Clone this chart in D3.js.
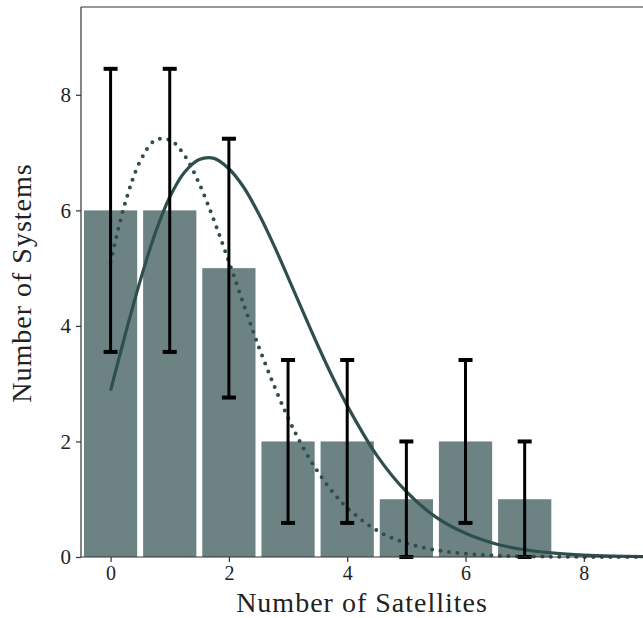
<!DOCTYPE html>
<html>
<head>
<meta charset="utf-8">
<script src="https://cdn.jsdelivr.net/npm/d3@7"></script>
<style>
  body { margin: 0; background: #fff; }
  svg text { font-family: "Liberation Serif", "DejaVu Serif", serif; fill: #222; }
</style>
</head>
<body>
<div id="chart"></div>
<script>
// observed counts per number of satellites
var satellites = [0, 1, 2, 3, 4, 5, 6, 7];
var systems = [6, 6, 5, 2, 2, 1, 2, 1];
var errLow = [3.55, 3.55, 2.76, 0.59, 0.59, 0, 0.59, 0];
var errHigh = [8.45, 8.45, 7.24, 3.41, 3.41, 2, 3.41, 2];

// model curves
var solidX = [0, 0.25, 0.5, 0.75, 1, 1.25, 1.5, 1.75, 2, 2.25, 2.5, 2.75, 3, 3.25, 3.5, 3.75, 4, 4.5, 5, 5.5, 6, 6.5, 7, 7.5, 8, 8.5, 9];
var solidY = [2.88, 3.86, 4.78, 5.59, 6.23, 6.66, 6.88, 6.90, 6.72, 6.40, 5.95, 5.42, 4.84, 4.25, 3.67, 3.12, 2.62, 1.76, 1.13, 0.69, 0.41, 0.23, 0.125, 0.066, 0.034, 0.017, 0.008];
var dotX = [0, 0.25, 0.5, 0.75, 1, 1.25, 1.5, 1.75, 2, 2.25, 2.5, 2.75, 3, 3.25, 3.5, 3.75, 4, 4.5, 5, 5.5, 6, 6.5, 7, 7.5, 8, 8.5, 9];
var dotY = [5.11, 6.14, 6.85, 7.21, 7.22, 6.95, 6.46, 5.82, 5.11, 4.37, 3.65, 3.00, 2.41, 1.90, 1.48, 1.13, 0.85, 0.46, 0.24, 0.12, 0.057, 0.026, 0.012, 0.005, 0.002, 0.001, 0.0];

var xTicks = [0, 2, 4, 6, 8];
var yTicks = [0, 2, 4, 6, 8];

var W = 643, H = 618;
var margin = {top: 7, left: 81, bottom: 61};
var plotH = H - margin.top - margin.bottom;

var dark = "#2f4f4f";

var x = d3.scaleLinear().domain([-0.5, 9]).range([0, W - margin.left]);
var y = d3.scaleLinear().domain([0, 9.52]).range([plotH, 0]);

var svg = d3.select("#chart").append("svg")
  .attr("width", W)
  .attr("height", H);

var g = svg.append("g")
  .attr("transform", "translate(" + margin.left + "," + margin.top + ")");

// bars
var barW = x(0.9) - x(0);
g.selectAll("rect.bar")
  .data(satellites)
  .enter().append("rect")
  .attr("class", "bar")
  .attr("x", function(d) { return x(d) - barW / 2; })
  .attr("y", function(d, i) { return y(systems[i]); })
  .attr("width", barW)
  .attr("height", function(d, i) { return y(0) - y(systems[i]); })
  .attr("fill", dark)
  .attr("fill-opacity", 0.7);

// curves
var line = d3.line()
  .x(function(d) { return x(d[0]); })
  .y(function(d) { return y(d[1]); })
  .curve(d3.curveCatmullRom);

g.append("path")
  .datum(dotX.map(function(v, i) { return [v, dotY[i]]; }))
  .attr("d", line)
  .attr("fill", "none")
  .attr("stroke", dark)
  .attr("stroke-width", 4)
  .attr("stroke-linecap", "round")
  .attr("stroke-dasharray", "0 8.5");

g.append("path")
  .datum(solidX.map(function(v, i) { return [v, solidY[i]]; }))
  .attr("d", line)
  .attr("fill", "none")
  .attr("stroke", dark)
  .attr("stroke-width", 3.2);

// error bars
var capW = 7;
var eb = g.selectAll("g.err")
  .data(satellites)
  .enter().append("g")
  .attr("class", "err");
eb.append("line")
  .attr("x1", function(d) { return x(d); })
  .attr("x2", function(d) { return x(d); })
  .attr("y1", function(d, i) { return y(errLow[i]); })
  .attr("y2", function(d, i) { return y(errHigh[i]); })
  .attr("stroke", "#000")
  .attr("stroke-width", 3);
eb.append("line")
  .attr("x1", function(d) { return x(d) - capW; })
  .attr("x2", function(d) { return x(d) + capW; })
  .attr("y1", function(d, i) { return y(errHigh[i]); })
  .attr("y2", function(d, i) { return y(errHigh[i]); })
  .attr("stroke", "#000")
  .attr("stroke-width", 4);
eb.append("line")
  .attr("x1", function(d) { return x(d) - capW; })
  .attr("x2", function(d) { return x(d) + capW; })
  .attr("y1", function(d, i) { return y(errLow[i]); })
  .attr("y2", function(d, i) { return y(errLow[i]); })
  .attr("stroke", "#000")
  .attr("stroke-width", 4);

// axes
var xAxis = d3.axisBottom(x).tickValues(xTicks).tickSize(5).tickPadding(4).tickFormat(d3.format("d"));
var yAxis = d3.axisLeft(y).tickValues(yTicks).tickSize(5).tickPadding(5).tickFormat(d3.format("d"));

var gx = g.append("g")
  .attr("transform", "translate(0," + plotH + ")")
  .call(xAxis);
var gy = g.append("g").call(yAxis);

[gx, gy].forEach(function(a) {
  a.select(".domain").remove();
  a.selectAll(".tick line").attr("stroke", "#333").attr("stroke-width", 1.2);
  a.selectAll(".tick text").style("font-size", "21px").attr("fill", "#333");
});
gx.selectAll(".tick text").style("font-size", "20px");

// frame: left, bottom, top
g.append("line").attr("x1", 0).attr("x2", 0).attr("y1", 0).attr("y2", plotH)
  .attr("stroke", "#333").attr("stroke-width", 1.2);
g.append("line").attr("x1", 0).attr("x2", W).attr("y1", plotH).attr("y2", plotH)
  .attr("stroke", "#333").attr("stroke-width", 1.2);
g.append("line").attr("x1", 0).attr("x2", W).attr("y1", 0).attr("y2", 0)
  .attr("stroke", "#333").attr("stroke-width", 1.2);

// labels
svg.append("text")
  .attr("x", 362)
  .attr("y", 611.5)
  .attr("text-anchor", "middle")
  .style("font-size", "28px")
  .style("letter-spacing", "1px")
  .text("Number of Satellites");

svg.append("text")
  .attr("transform", "translate(31,283) rotate(-90)")
  .attr("text-anchor", "middle")
  .style("font-size", "28px")
  .style("letter-spacing", "1px")
  .text("Number of Systems");
</script>
</body>
</html>
